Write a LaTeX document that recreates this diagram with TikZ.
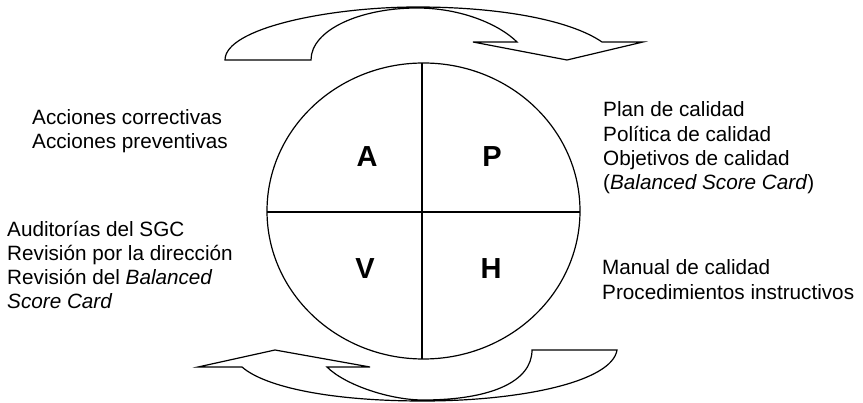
\documentclass[tikz,border=0pt]{standalone}
\usepackage{fontspec}
\setmainfont{Liberation Sans}
\begin{document}
\begin{tikzpicture}[x=1pt,y=-1pt,
  shape line/.style={line width=1.2pt,line join=miter},
  txt/.style={inner sep=0pt,anchor=base west,font=\fontsize{20.7}{24}\selectfont},
  letter/.style={inner sep=0pt,anchor=base,font=\fontsize{29}{32}\selectfont\bfseries}]
\useasboundingbox (0,0) rectangle (863,403);
% circle and quadrants
\draw[shape line] (423.5,211) ellipse [x radius=156.5, y radius=148];
\draw[shape line] (422,63) -- (422,359);
\draw[shape line] (267,212) -- (580,212);
% top arrow
\draw[shape line] (225,60) -- (311,60)
  .. controls (311,30) and (360,8) .. (417,8)
  .. controls (462,8) and (500,25) .. (517,42)
  -- (473,42) -- (567,60) -- (643,42) -- (602,42)
  .. controls (570,20) and (500,7) .. (417,7)
  .. controls (330,7) and (225,28) .. cycle;
% bottom arrow
\draw[shape line] (198,367) -- (275,350) -- (370,367) -- (327,367)
  .. controls (345,385) and (390,400) .. (423,400)
  .. controls (490,400) and (532,382) .. (532,350)
  -- (617,350)
  .. controls (612,382) and (520,401) .. (423,401)
  .. controls (330,401) and (265,387) .. (242,367)
  -- cycle;
% letters
\node[letter] (A) at (367,167) {A};
\node[letter] (P) at (492,167) {P};
\node[letter] (V) at (365,279) {V};
\node[letter] (H) at (491,279) {H};
% left top
\node[txt] (a1) at (32,125) {Acciones correctivas};
\node[txt] (a2) at (32,149) {Acciones preventivas};
% left bottom
\node[txt] (v1) at (7,237) {Auditorías del SGC};
\node[txt] (v2) at (7,261) {Revisión por la dirección};
\node[txt] (v3) at (7,285) {Revisión del \textit{Balanced}};
\node[txt] (v4) at (7,309) {\textit{Score Card}};
% right top
\node[txt] (p1) at (603,117) {Plan de calidad};
\node[txt] (p2) at (603,142) {Política de calidad};
\node[txt] (p3) at (603,166) {Objetivos de calidad};
\node[txt] (p4) at (603,190) {(\textit{Balanced Score Card})};
% right bottom
\node[txt] (h1) at (602,275) {Manual de calidad};
\node[txt] (h2) at (602,300) {Procedimientos instructivos};
\end{tikzpicture}
\end{document}
